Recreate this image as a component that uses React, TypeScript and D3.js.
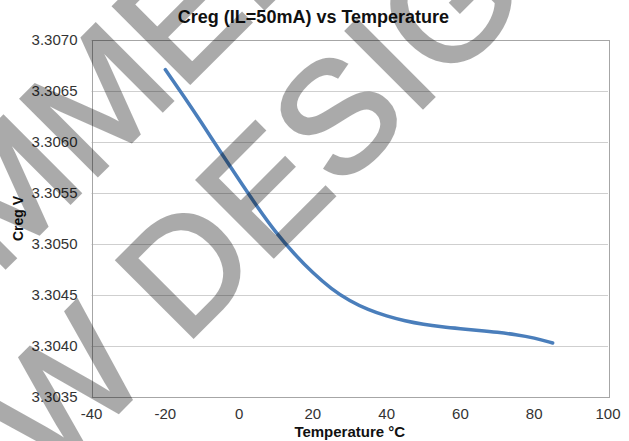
import React from "react";
import * as d3 from "d3";

const temps = [-20, -15, -10, -5, 0, 5, 10, 15, 20, 25, 30, 35, 40, 45, 50, 55, 60, 65, 70, 75, 80, 85];
const creg = [3.30671, 3.30645, 3.30618, 3.3059, 3.30563, 3.30536, 3.30511, 3.3049, 3.304715, 3.30456, 3.30444, 3.304355, 3.304292, 3.304245, 3.304211, 3.304188, 3.30417, 3.304153, 3.304135, 3.304112, 3.30408, 3.30403];
const xTicks = [-40, -20, 0, 20, 40, 60, 80, 100];
const yTicks = [3.3035, 3.304, 3.3045, 3.305, 3.3055, 3.306, 3.3065, 3.307];
const title = "Creg (IL=50mA) vs Temperature";
const xTitle = "Temperature °C";
const yTitle = "Creg V";
const watermark = ["NOT RECOMMENDED FOR", "NEW DESIGN"];

const W = 629;
const H = 441;
const L = 91.5;
const R = 608;
const T = 40;
const B = 397;

export default function App() {
  const x = d3.scaleLinear().domain([-40, 100]).range([L, R]);
  const y = d3.scaleLinear().domain([3.3035, 3.307]).range([B, T]);
  const pts = temps.map((t, i) => [t, creg[i]] as [number, number]);
  const line = d3
    .line<[number, number]>()
    .x((d) => x(d[0]))
    .y((d) => y(d[1]))
    .curve(d3.curveBasis);
  const font = "'Liberation Sans', Arial, sans-serif";
  const wmPos = [
    [123.8, 149.2],
    [252.5, 277.9],
  ];
  return (
    <svg
      width={W}
      height={H}
      style={{ position: "absolute", left: 0, top: 0, background: "#fff" }}
      fontFamily={font}
    >
      <rect x={0} y={0} width={W} height={H} fill="#fff" />
      {yTicks.map((v) => (
        <line key={"g" + v} x1={L} x2={R} y1={Math.round(y(v)) + 0.5} y2={Math.round(y(v)) + 0.5} stroke="#cfcfcf" strokeWidth={1} />
      ))}
      <rect x={Math.round(L) + 0.5} y={T + 0.5} width={Math.round(R - L)} height={Math.round(B - T)} fill="none" stroke="#a6a6a6" strokeWidth={1} />
      <path d={line(pts) || ""} fill="none" stroke="#4a7ebb" strokeWidth={3.5} strokeLinecap="round" strokeLinejoin="round" />
      {yTicks.map((v) => (
        <text key={"yl" + v} x={77.5} y={y(v) + 5.3} textAnchor="end" fontSize={15} fill="#333">
          {v.toFixed(4)}
        </text>
      ))}
      {xTicks.map((t) => (
        <text key={"xl" + t} x={x(t)} y={418.5} textAnchor="middle" fontSize={15} fill="#333">
          {t}
        </text>
      ))}
      <text x={313.5} y={23} textAnchor="middle" fontSize={18} fontWeight="bold" fill="#111">
        {title}
      </text>
      <text x={(L + R) / 2} y={437} textAnchor="middle" fontSize={15} fontWeight="bold" fill="#111">
        {xTitle}
      </text>
      <text transform={`translate(23.3, ${(T + B) / 2}) rotate(-90)`} textAnchor="middle" fontSize={14} fontWeight="bold" fill="#111">
        {yTitle}
      </text>
      <g opacity={0.33}>
        {watermark.map((s, i) => (
          <text
            key={"wm" + i}
            transform={`translate(${wmPos[i][0]}, ${wmPos[i][1]}) rotate(-45)`}
            textAnchor="middle"
            fontSize={157}
            fill="#000"
            stroke="#000"
            strokeWidth={3.5}
            strokeLinejoin="miter"
          >
            {s}
          </text>
        ))}
      </g>
    </svg>
  );
}
